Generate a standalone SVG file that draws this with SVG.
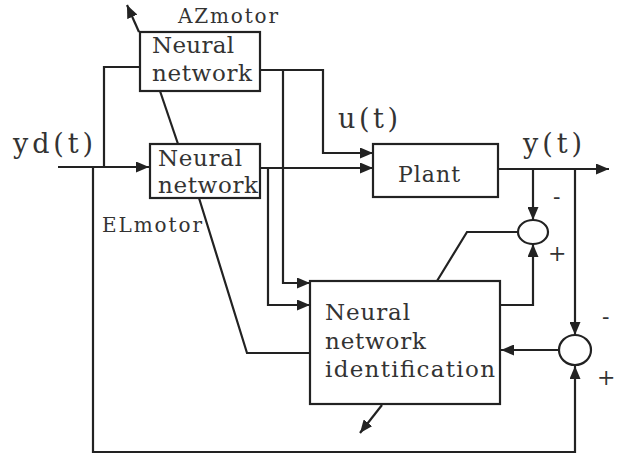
<svg xmlns="http://www.w3.org/2000/svg" width="626" height="456" viewBox="0 0 626 456">
<style>
.box{fill:#fff;stroke:#222;stroke-width:2.2}
.ln{fill:none;stroke:#222;stroke-width:2.2}
.arr{marker-end:url(#ah)}
text{font-family:"DejaVu Serif","Liberation Serif",serif;fill:#333}
.nn{font-size:23px}
.lbl{font-size:27px}
.mot{font-size:20px}
.sg{font-size:22px}
</style>
<defs>
<marker id="ah" markerUnits="userSpaceOnUse" markerWidth="14" markerHeight="11" refX="13" refY="5.5" orient="auto">
<path d="M0,0 L13,5.5 L0,11 z" fill="#222"/>
</marker>
</defs>
<rect width="626" height="456" fill="#fff"/>
<g id="connectors">
<path class="ln arr" d="M58,167 H149"/>
<path class="ln" d="M104,167 V67 H140"/>
<path class="ln arr" d="M93,167 V452 H575 V366"/>
<path class="ln arr" d="M260,70 H323 V153 H373"/>
<path class="ln arr" d="M283,70 V283 H310"/>
<path class="ln arr" d="M260,168 H373"/>
<path class="ln arr" d="M268,168 V305 H310"/>
<path class="ln" d="M310,353 H247 L199,198"/>
<path class="ln" d="M178,144 L160,91"/>
<path class="ln arr" d="M139,32 L127,5"/>
<path class="ln arr" d="M498,169 H609"/>
<path class="ln arr" d="M533,169 V220"/>
<path class="ln arr" d="M575,169 V335"/>
<path class="ln" d="M518,232 H467 L437,281"/>
<path class="ln arr" d="M500,305 H533 V244"/>
<path class="ln arr" d="M559,350 H501"/>
<path class="ln arr" d="M382,405 L360,433"/>
</g>
<g id="nn-az">
<rect class="box" x="140" y="32" width="120" height="59"/>
<text class="nn" x="152" y="53" textLength="82" lengthAdjust="spacing">Neural</text>
<text class="nn" x="152" y="81" textLength="100" lengthAdjust="spacing">network</text>
</g>
<g id="nn-el">
<rect class="box" x="150" y="144" width="110" height="54"/>
<text class="nn" x="158" y="166" textLength="84" lengthAdjust="spacing">Neural</text>
<text class="nn" x="158" y="193" textLength="100" lengthAdjust="spacing">network</text>
</g>
<g id="plant">
<rect class="box" x="373" y="144" width="125" height="53"/>
<text x="398" y="182" font-size="22" textLength="62" lengthAdjust="spacing">Plant</text>
</g>
<g id="nn-id">
<rect class="box" x="310" y="281" width="190" height="123"/>
<text class="nn" x="325" y="320" textLength="85" lengthAdjust="spacing">Neural</text>
<text class="nn" x="325" y="349" textLength="101" lengthAdjust="spacing">network</text>
<text class="nn" x="325" y="377" textLength="170" lengthAdjust="spacing">identification</text>
</g>
<g id="sum1">
<ellipse class="box" cx="533" cy="232" rx="15" ry="12"/>
<text class="sg" x="553" y="204">-</text>
<text class="sg" x="548" y="261">+</text>
</g>
<g id="sum2">
<ellipse class="box" cx="575" cy="350" rx="16" ry="15"/>
<text class="sg" x="602" y="324">-</text>
<text class="sg" x="597" y="385">+</text>
</g>
<g id="labels">
<text class="lbl" x="13" y="153" textLength="80" lengthAdjust="spacing">yd(t)</text>
<text class="lbl" x="338" y="128" textLength="60" lengthAdjust="spacing">u(t)</text>
<text class="lbl" x="523" y="153" textLength="59" lengthAdjust="spacing">y(t)</text>
<text class="mot" x="178" y="23" textLength="100" lengthAdjust="spacing">AZmotor</text>
<text class="mot" x="102" y="232" textLength="100" lengthAdjust="spacing">ELmotor</text>
</g>
</svg>
